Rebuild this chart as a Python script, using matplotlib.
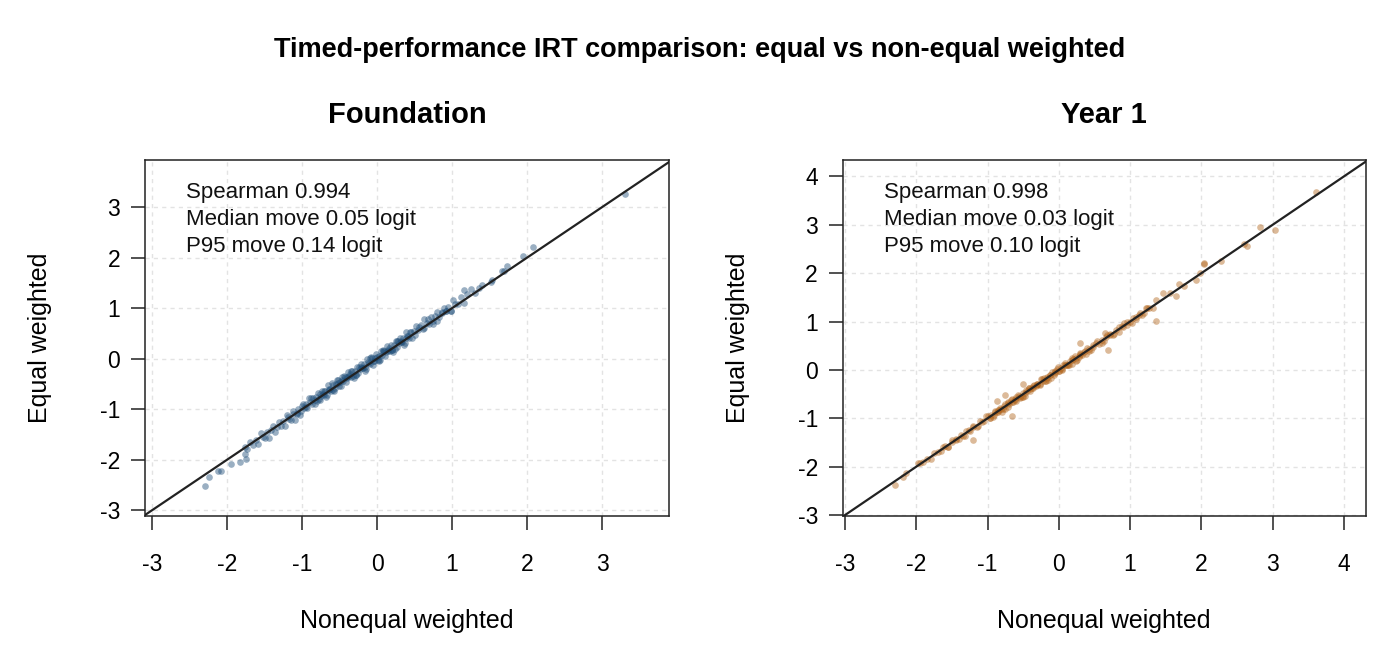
#!/usr/bin/env python3
"""Timed-performance IRT: equal vs non-equal weighted ability estimates."""

import matplotlib

matplotlib.use("Agg")
import matplotlib.pyplot as plt

plt.rcParams["font.family"] = ["Liberation Sans", "DejaVu Sans"]
plt.rcParams["axes.unicode_minus"] = False

SUPTITLE = "Timed-performance IRT comparison: equal vs non-equal weighted"
panel_titles = ["Foundation", "Year 1"]
x_label = "Nonequal weighted"
y_label = "Equal weighted"

foundation_stats = ["Spearman 0.994", "Median move 0.05 logit", "P95 move 0.14 logit"]
year1_stats = ["Spearman 0.998", "Median move 0.03 logit", "P95 move 0.10 logit"]

foundation_ticks = [-3, -2, -1, 0, 1, 2, 3]
year1_ticks = [-3, -2, -1, 0, 1, 2, 3, 4]

# person estimates
foundation_nonequal = [
    -2.29, -2.24, -2.12, -2.08, -1.95, -1.83, -1.75, -1.76, -1.73, -1.76,
    -1.69, -1.65, -1.61, -1.58, -1.55, -1.52, -1.49, -1.47, -1.44, -1.41,
    -1.39, -1.36, -1.33, -1.31, -1.28, -1.25, -1.23, -1.20, -1.17, -1.15,
    -1.12, -1.09, -1.07, -1.05, -1.03, -1.01,
    -0.99, -0.97, -0.95, -0.93, -0.91, -0.89, -0.87, -0.85, -0.83, -0.81,
    -0.79, -0.77, -0.75, -0.73, -0.71, -0.69, -0.67, -0.65, -0.63, -0.61,
    -0.59, -0.57, -0.55, -0.53, -0.51, -0.49, -0.47, -0.45, -0.43, -0.41,
    -0.39, -0.37, -0.35, -0.33, -0.31, -0.29, -0.27, -0.25, -0.23, -0.21,
    -0.19, -0.17, -0.15, -0.13, -0.11, -0.09, -0.07, -0.05, -0.03, -0.01,
    0.01, 0.03, 0.05, 0.07, 0.09, 0.11, 0.13, 0.15, 0.17, 0.19,
    0.21, 0.23, 0.25, 0.27, 0.29, 0.31, 0.33, 0.35, 0.37, 0.39,
    0.41, 0.43, 0.45, 0.47, 0.49,
    -0.80, -0.76, -0.72, -0.68, -0.64, -0.60, -0.56, -0.52, -0.48, -0.44,
    -0.40, -0.36, -0.32, -0.28, -0.24, -0.20, -0.16, -0.12, -0.08, -0.04,
    0.00, 0.04, 0.08, 0.12, 0.16, 0.20, 0.24, 0.28, 0.32, 0.36, 0.40,
    -1.18, -1.12, -1.06, -1.00, -0.94, -0.88, -0.82, -0.76, -0.70, -0.64,
    -0.58, -0.52, -0.46, -0.40, -0.34, -0.28, -0.22, -0.16, -0.10, -0.04,
    0.02, 0.08, 0.14, 0.20, 0.26, 0.32, 0.38, 0.44, 0.50, 0.56,
    0.62, 0.68, 0.74, 0.80, 0.86, 0.92, 0.98,
    0.52, 0.55, 0.58, 0.61, 0.63, 0.66, 0.69, 0.72, 0.74, 0.77,
    0.80, 0.83, 0.86, 0.89, 0.92, 0.95, 0.98, 1.01, 1.04, 1.08,
    1.12, 1.16, 1.20, 1.25, 1.30, 1.36,
    1.16, 1.40, 1.52, 1.53, 1.66, 1.69, 1.73, 1.94, 2.08, 3.30,
]
foundation_equal = [
    -2.51, -2.34, -2.22, -2.22, -2.08, -2.05, -1.99, -1.89, -1.79, -1.74,
    -1.64, -1.70, -1.60, -1.68, -1.47, -1.54, -1.56, -1.44, -1.56, -1.41,
    -1.33, -1.44, -1.36, -1.26, -1.33, -1.24, -1.33, -1.12, -1.19, -1.22,
    -1.09, -1.21, -1.07, -0.99, -1.11, -1.04,
    -0.89, -0.97, -0.89, -0.98, -0.78, -0.86, -0.89, -0.77, -0.90, -0.76,
    -0.68, -0.80, -0.73, -0.63, -0.71, -0.63, -0.72, -0.52, -0.60, -0.63,
    -0.51, -0.64, -0.50, -0.42, -0.54, -0.47, -0.37, -0.45, -0.37, -0.46,
    -0.26, -0.34, -0.37, -0.25, -0.38, -0.24, -0.16, -0.28, -0.21, -0.11,
    -0.19, -0.11, -0.20, 0.00, -0.08, -0.11, 0.01, -0.12, 0.02, 0.10,
    -0.02, 0.05, 0.15, 0.07, 0.15, 0.06, 0.26, 0.18, 0.15, 0.27,
    0.14, 0.28, 0.36, 0.24, 0.31, 0.41, 0.33, 0.41, 0.32, 0.52,
    0.44, 0.41, 0.53, 0.40, 0.54,
    -0.84, -0.69, -0.70, -0.76, -0.59, -0.48, -0.57, -0.48, -0.54, -0.35,
    -0.39, -0.30, -0.35, -0.32, -0.17, -0.18, -0.24, -0.07, 0.04, -0.05,
    0.04, -0.02, 0.17, 0.13, 0.22, 0.17, 0.20, 0.35, 0.34, 0.28, 0.45,
    -1.15, -1.03, -1.10, -0.94, -0.95, -0.77, -0.82, -0.82, -0.63, -0.62,
    -0.61, -0.42, -0.42, -0.37, -0.25, -0.32, -0.16, -0.17, 0.01, -0.04,
    -0.04, 0.15, 0.16, 0.17, 0.36, 0.36, 0.41, 0.53, 0.46, 0.62,
    0.61, 0.79, 0.74, 0.74, 0.93, 0.94, 0.95,
    0.64, 0.57, 0.66, 0.58, 0.78, 0.71, 0.69, 0.82, 0.69, 0.84,
    0.93, 0.82, 0.90, 1.01, 0.94, 1.03, 0.95, 1.16, 1.09, 1.08,
    1.22, 1.11, 1.27, 1.38, 1.29, 1.40,
    1.35, 1.45, 1.52, 1.56, 1.74, 1.73, 1.84, 2.04, 2.20, 3.25,
]

year1_nonequal = [
    -2.30, -2.19, -2.14, -1.98,
    -1.95, -1.90, -1.85, -1.80, -1.75, -1.70, -1.65, -1.60, -1.55, -1.50,
    -1.45, -1.40, -1.35, -1.30, -1.25, -1.20, -1.15, -1.10, -1.05,
    -1.00, -0.97, -0.95, -0.92, -0.90, -0.87, -0.85, -0.82, -0.80, -0.77,
    -0.75, -0.72, -0.70, -0.67, -0.65, -0.62, -0.60, -0.57, -0.55, -0.52,
    -0.50, -0.47, -0.45, -0.42, -0.40, -0.37, -0.35, -0.32, -0.30, -0.27,
    -0.25, -0.22, -0.20, -0.17, -0.15, -0.12, -0.10, -0.07, -0.05, -0.02,
    0.00, 0.03, 0.05, 0.08, 0.10, 0.13, 0.15, 0.18, 0.20, 0.23,
    0.25, 0.28, 0.30, 0.33, 0.35, 0.38, 0.40, 0.43, 0.45, 0.48,
    -0.91, -0.86, -0.81, -0.76, -0.71, -0.66, -0.61, -0.56, -0.51, -0.46,
    -0.41, -0.36, -0.31, -0.26, -0.21, -0.16, -0.11, -0.06, -0.01, 0.04,
    0.09, 0.14, 0.19, 0.24, 0.29,
    -1.62, -1.56, -1.50, -1.44, -1.38, -1.32, -1.26, -1.20, -1.14, -1.08,
    -1.02, -0.96, -0.90, -0.84, -0.78, -0.72, -0.66, -0.60, -0.54, -0.48,
    -0.42, -0.36, -0.30, -0.24, -0.18, -0.12, -0.06, 0.00, 0.06, 0.12,
    0.18, 0.24, 0.30, 0.36, 0.42, 0.48, 0.54, 0.60, 0.66, 0.72,
    0.78, 0.84, 0.90, 0.96, 1.02, 1.08, 1.14, 1.20,
    0.52, 0.56, 0.60, 0.64, 0.68, 0.72, 0.76, 0.80, 0.84, 0.88,
    0.92, 0.96, 1.00, 1.04, 1.08, 1.12, 1.17, 1.22, 1.27, 1.32,
    -1.20, -0.66, -0.87, -0.76, -0.51, 0.29, 0.69, 0.65, 1.36, 1.23,
    1.37, 1.46, 1.56, 1.65, 1.68, 1.75, 1.93, 1.98, 2.03, 2.04,
    2.28, 2.60, 2.64, 2.82, 3.03, 3.61,
]
year1_equal = [
    -2.38, -2.21, -2.14, -1.93,
    -1.92, -1.91, -1.84, -1.84, -1.71, -1.70, -1.67, -1.58, -1.59, -1.49,
    -1.42, -1.43, -1.36, -1.27, -1.26, -1.19, -1.19, -1.06, -1.05,
    -0.96, -0.99, -0.94, -0.97, -0.84, -0.87, -0.88, -0.79, -0.86, -0.75,
    -0.70, -0.76, -0.71, -0.63, -0.67, -0.61, -0.65, -0.51, -0.55, -0.55,
    -0.47, -0.53, -0.43, -0.37, -0.44, -0.38, -0.31, -0.34, -0.29, -0.32,
    -0.19, -0.22, -0.23, -0.14, -0.21, -0.10, -0.05, -0.11, -0.06, 0.02,
    -0.02, 0.04, 0.00, 0.14, 0.10, 0.10, 0.18, 0.12, 0.22, 0.28,
    0.21, 0.27, 0.34, 0.31, 0.36, 0.33, 0.46, 0.43, 0.42, 0.51,
    -0.94, -0.82, -0.81, -0.81, -0.68, -0.60, -0.63, -0.54, -0.55, -0.41,
    -0.40, -0.33, -0.32, -0.29, -0.17, -0.16, -0.16, -0.03, 0.05, 0.02,
    0.11, 0.10, 0.24, 0.25, 0.32,
    -1.60, -1.59, -1.45, -1.45, -1.35, -1.37, -1.25, -1.16, -1.16, -1.08,
    -0.96, -1.00, -0.88, -0.82, -0.81, -0.67, -0.67, -0.57, -0.59, -0.47,
    -0.38, -0.38, -0.30, -0.18, -0.22, -0.10, -0.04, -0.03, 0.11, 0.11,
    0.21, 0.19, 0.31, 0.40, 0.40, 0.48, 0.60, 0.56, 0.68, 0.74,
    0.75, 0.89, 0.89, 0.99, 0.97, 1.09, 1.18, 1.18,
    0.55, 0.54, 0.61, 0.60, 0.73, 0.72, 0.73, 0.82, 0.79, 0.90,
    0.96, 0.93, 0.99, 1.07, 1.06, 1.13, 1.13, 1.27, 1.27, 1.29,
    -1.45, -0.96, -0.64, -0.52, -0.30, 0.55, 0.41, 0.77, 1.01, 1.28,
    1.45, 1.60, 1.59, 1.53, 1.77, 1.74, 1.86, 2.01, 2.21, 2.18,
    2.26, 2.61, 2.57, 2.95, 2.90, 3.67,
]

foundation_color = "#1F4E79"
year1_color = "#B2661E"


def draw_panel(ax, x, y, color, ticks, xlim, ylim, stats):
    for t in ticks:
        ax.axvline(t, color="#e3e3e3", lw=1.0, ls=(0, (3, 3)), zorder=0)
        ax.axhline(t, color="#e3e3e3", lw=1.0, ls=(0, (3, 3)), zorder=0)
    ax.scatter(x, y, s=23, color=color, alpha=0.45, linewidths=0, zorder=2)
    lo = min(xlim[0], ylim[0]) - 1
    hi = max(xlim[1], ylim[1]) + 1
    ax.plot([lo, hi], [lo, hi], color="#222222", lw=1.6, zorder=3)
    ax.set_xlim(*xlim)
    ax.set_ylim(*ylim)
    ax.set_xticks(ticks)
    ax.set_yticks(ticks)
    ax.set_xticklabels([str(t) for t in ticks])
    ax.set_yticklabels([str(t) for t in ticks])
    ax.tick_params(axis="both", direction="out", length=10, width=1.1,
                   labelsize=16.5, color="#222222")
    ax.tick_params(axis="x", pad=17)
    ax.tick_params(axis="y", pad=8)
    for sp in ax.spines.values():
        sp.set_linewidth(1.1)
        sp.set_color("#222222")
    for line, yb in zip(stats, [0.893, 0.816, 0.7416]):
        ax.text(0.078, yb, line, transform=ax.transAxes, fontsize=16,
                ha="left", va="baseline", color="#111111")


def main() -> None:
    fig = plt.figure(figsize=(14, 6.6), dpi=100)
    ax1 = fig.add_axes([0.1036, 0.2182, 0.3743, 0.5394])
    ax2 = fig.add_axes([0.6021, 0.2182, 0.3736, 0.5394])

    draw_panel(ax1, foundation_nonequal, foundation_equal, foundation_color,
               foundation_ticks, (-3.09, 3.89), (-3.11, 3.93), foundation_stats)
    draw_panel(ax2, year1_nonequal, year1_equal, year1_color,
               year1_ticks, (-3.03, 4.31), (-3.02, 4.34), year1_stats)

    fig.text(0.5, 1 - 50 / 660, SUPTITLE, ha="center", va="center",
             fontsize=19.5, fontweight="bold")
    for cx, title in zip([407, 1104], panel_titles):
        fig.text(cx / 1400, 1 - 115 / 660, title, ha="center", va="center",
                 fontsize=21, fontweight="bold")
        fig.text(cx / 1400, 1 - 621 / 660, x_label, ha="center", va="center",
                 fontsize=18)
    for lx in [40, 738]:
        fig.text(lx / 1400, 1 - 338 / 660, y_label, ha="center", va="center",
                 rotation=90, fontsize=18)

    fig.savefig("out.png", dpi=100)
    plt.close(fig)


if __name__ == "__main__":
    main()
